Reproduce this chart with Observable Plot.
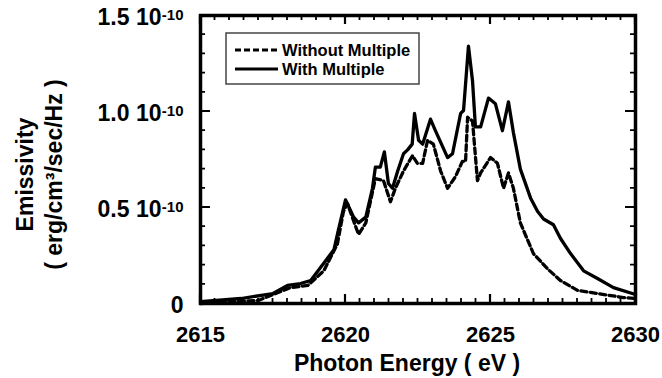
<!DOCTYPE html>
<html><head><meta charset="utf-8">
<script src="https://cdn.jsdelivr.net/npm/d3@7"></script>
<script src="https://cdn.jsdelivr.net/npm/@observablehq/plot@0.6"></script>
<style>
body{margin:0;background:#fff;}
#chart{position:relative;width:662px;height:378px;}
</style></head><body><div id="chart"></div>
<script>
// Photon energy (eV) and emissivity (units of 1e-10 erg/cm3/sec/Hz)
const energyWith = [2615.0, 2616.4, 2617.5, 2618.0, 2618.45, 2618.8, 2619.25, 2619.6, 2619.75, 2620.0, 2620.28, 2620.45, 2620.7, 2620.93, 2621.03, 2621.2, 2621.34, 2621.48, 2621.62, 2621.8, 2622.0, 2622.14, 2622.3, 2622.38, 2622.52, 2622.66, 2622.93, 2623.1, 2623.52, 2623.69, 2623.97, 2624.07, 2624.24, 2624.38, 2624.48, 2624.66, 2624.93, 2625.17, 2625.41, 2625.62, 2625.79, 2626.03, 2626.38, 2626.62, 2626.83, 2627.17, 2627.41, 2627.76, 2628.21, 2628.69, 2629.24, 2630.0];
const emisWith = [0.01, 0.026, 0.052, 0.094, 0.104, 0.12, 0.21, 0.28, 0.38, 0.54, 0.45, 0.42, 0.45, 0.60, 0.71, 0.71, 0.79, 0.625, 0.60, 0.69, 0.78, 0.80, 0.83, 0.99, 0.85, 0.83, 0.96, 0.90, 0.76, 0.78, 0.99, 1.005, 1.34, 1.16, 0.92, 0.92, 1.07, 1.04, 0.90, 1.05, 0.89, 0.70, 0.55, 0.48, 0.44, 0.41, 0.34, 0.26, 0.17, 0.13, 0.083, 0.047];
const energyWithout = [2615.0, 2617.0, 2618.1, 2618.7, 2619.25, 2619.72, 2619.93, 2620.07, 2620.28, 2620.45, 2620.7, 2621.03, 2621.31, 2621.55, 2621.72, 2622.0, 2622.31, 2622.48, 2622.66, 2622.83, 2623.03, 2623.28, 2623.52, 2623.79, 2624.03, 2624.14, 2624.21, 2624.38, 2624.55, 2624.66, 2625.0, 2625.24, 2625.45, 2625.62, 2625.79, 2626.03, 2626.14, 2626.48, 2626.97, 2627.41, 2628.0, 2628.69, 2629.59, 2630.0];
const emisWithout = [0.0, 0.016, 0.083, 0.094, 0.17, 0.31, 0.48, 0.52, 0.43, 0.36, 0.42, 0.65, 0.64, 0.53, 0.60, 0.69, 0.77, 0.73, 0.73, 0.85, 0.83, 0.69, 0.60, 0.66, 0.74, 0.74, 0.97, 0.95, 0.64, 0.68, 0.76, 0.73, 0.60, 0.68, 0.60, 0.42, 0.38, 0.26, 0.18, 0.12, 0.068, 0.052, 0.031, 0.026];

const seriesNames = ["Without Multiple", "With Multiple"];
const xTicks = [2615, 2620, 2625, 2630];
const xTickLabels = ["2615", "2620", "2625", "2630"];
const yTicks = [0, 0.5, 1.0, 1.5];
const yTickMantissa = ["0", "0.5 10", "1.0 10", "1.5 10"];
const yTickExponent = ["", "-10", "-10", "-10"];
const xTitle = "Photon Energy ( eV )";
const yTitle = "Emissivity\n( erg/cm\u00b3/sec/Hz )";

const xMinor = d3.range(0, 31).map(i => 2615 + i * 0.5);
const yMinor = d3.range(0, 16).map(i => Math.round(i * 10) / 100);

const withData = energyWith.map((e, i) => ({e, v: emisWith[i]}));
const withoutData = energyWithout.map((e, i) => ({e, v: emisWithout[i]}));

const W = 662, H = 378, mL = 200, mR = 27, mT = 15, mB = 75;
const font = "'Liberation Sans', Arial, Helvetica, sans-serif";
const idx = yTicks.map((d, i) => i);

const plot = Plot.plot({
  width: W, height: H,
  marginLeft: mL, marginRight: mR, marginTop: mT, marginBottom: mB,
  x: {domain: [2615, 2630], axis: null},
  y: {domain: [0, 1.5], axis: null},
  style: {fontFamily: font, fontWeight: "bold", background: "white", color: "black", overflow: "visible"},
  marks: [
    Plot.line(withoutData, {x: "e", y: "v", stroke: "black", strokeWidth: 3.3, strokeDasharray: "6,3.5"}),
    Plot.line(withData, {x: "e", y: "v", stroke: "black", strokeWidth: 3.3}),
    Plot.frame({stroke: "black", strokeWidth: 3.5}),
    Plot.text(xTicks.map((d, i) => i), {x: i => xTicks[i], text: i => xTickLabels[i], frameAnchor: "bottom", dy: 31, fontSize: 22, fontWeight: "bold", textAnchor: "middle", lineAnchor: "middle", fill: "black"}),
    Plot.text(idx.filter(i => yTickExponent[i]), {y: i => yTicks[i], text: i => yTickMantissa[i], frameAnchor: "left", dx: -39, dy: 2.5, textAnchor: "end", lineAnchor: "middle", fontSize: 23, fontWeight: "bold", fill: "black"}),
    Plot.text(idx.filter(i => yTickExponent[i]), {y: i => yTicks[i], text: i => yTickExponent[i], frameAnchor: "left", dx: -17, dy: -0.5, textAnchor: "end", lineAnchor: "middle", fontSize: 15, fontWeight: "bold", fill: "black"}),
    Plot.text(idx.filter(i => !yTickExponent[i]), {y: i => yTicks[i], text: i => yTickMantissa[i], frameAnchor: "left", dx: -17, dy: 2.5, textAnchor: "end", lineAnchor: "middle", fontSize: 23, fontWeight: "bold", fill: "black"}),
    Plot.text([xTitle], {text: d => d, frameAnchor: "bottom", dx: -11, dy: 60, fontSize: 23, fontWeight: "bold", textAnchor: "middle", lineAnchor: "middle", fill: "black"}),
    Plot.text([yTitle], {text: d => d, frameAnchor: "left", dx: -162, dy: 15, rotate: -90, fontSize: 23, fontWeight: "bold", textAnchor: "middle", lineAnchor: "middle", lineHeight: 1.24, fill: "black"})
  ]
});

document.getElementById("chart").appendChild(plot);

const svg = d3.select(plot);

// legend
const lg = svg.append("g");
lg.append("rect").attr("x", 226).attr("y", 33).attr("width", 193).attr("height", 51)
  .attr("fill", "white").attr("stroke", "#444").attr("stroke-width", 1.5);
const lgY = [50, 69];
const lgDash = ["6,3", null];
seriesNames.forEach((name, i) => {
  lg.append("line").attr("x1", 235).attr("x2", 278).attr("y1", lgY[i]).attr("y2", lgY[i])
    .attr("stroke", "black").attr("stroke-width", 3).attr("stroke-dasharray", lgDash[i]);
  lg.append("text").attr("x", 282).attr("y", lgY[i] + 6).attr("font-size", 16.5)
    .attr("text-anchor", "start").attr("font-weight", "bold").attr("font-family", font)
    .attr("fill", "black").text(name);
});

// inward ticks on all four sides, positioned through the plot's own scales
const xs = plot.scale("x"), ys = plot.scale("y");
const yBot = ys.apply(0), yTop = ys.apply(1.5);
const xLeft = xs.apply(2615), xRight = xs.apply(2630);
const isMajor = (arr, v) => arr.some(t => Math.abs(t - v) < 1e-9);
const pMinor = d3.path(), pMajor = d3.path();
xMinor.forEach(v => {
  const major = isMajor(xTicks, v), p = major ? pMajor : pMinor, len = major ? 9 : 5, px = xs.apply(v);
  p.moveTo(px, yBot); p.lineTo(px, yBot - len);
  p.moveTo(px, yTop); p.lineTo(px, yTop + len);
});
yMinor.forEach(v => {
  const major = isMajor(yTicks, v), p = major ? pMajor : pMinor, len = major ? 10 : 5, py = ys.apply(v);
  p.moveTo(xLeft, py); p.lineTo(xLeft + len, py);
  p.moveTo(xRight, py); p.lineTo(xRight - len, py);
});
svg.append("path").attr("d", pMinor.toString()).attr("fill", "none").attr("stroke", "black").attr("stroke-width", 1.8);
svg.append("path").attr("d", pMajor.toString()).attr("fill", "none").attr("stroke", "black").attr("stroke-width", 2.2);
</script></body></html>
